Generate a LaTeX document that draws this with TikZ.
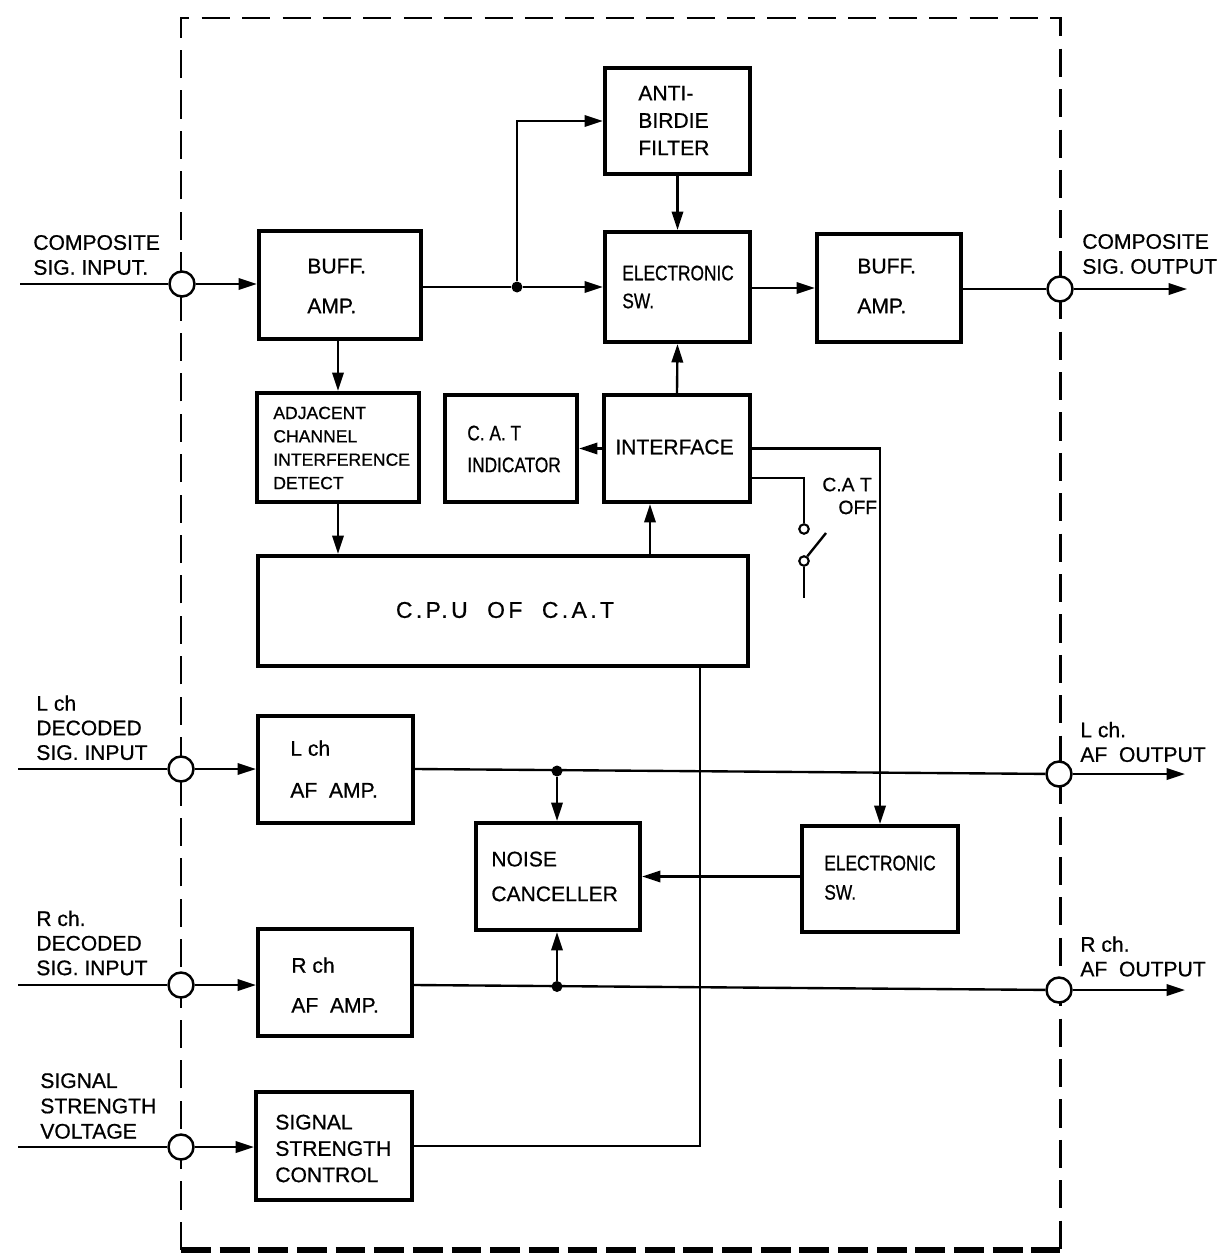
\documentclass[tikz,border=0pt]{standalone}
\usepackage{fontspec}
\setmainfont{Liberation Sans}[FakeBold=0.7]
\newfontfamily\narrowfont{Liberation Sans}[FakeStretch=0.82,FakeBold=0.7]
\newfontfamily\widefont{Liberation Sans}[LetterSpace=15,FakeBold=0.7]
\usetikzlibrary{arrows.meta,fit}
\begin{document}
\begin{tikzpicture}[x=0.02cm,y=-0.02cm,
  box/.style={draw, line width=2.3pt, inner sep=0pt},
  conn/.style={line width=1.35pt},
  arr/.style={conn, -{Triangle[length=10.5pt,width=6.5pt]}},
  port/.style={circle, draw, line width=1.4pt, minimum size=0.5cm, inner sep=0pt, fill=white},
  jdot/.style={circle, fill, minimum size=0.22cm, inner sep=0pt},
  contact/.style={circle, draw, line width=1.2pt, minimum size=0.19cm, inner sep=0pt, fill=white},
  lbl/.style={anchor=west, align=left, inner sep=0pt, font=\fontsize{12}{#1}\selectfont},
  frame/.style={line width=1.7pt, dash pattern=on 16pt off 7pt},
]
\useasboundingbox (0,0) rectangle (1224,1257);

% ---- dashed frame ----
\coordinate (fTL) at (181,18);
\coordinate (fTR) at (1060,18);
\coordinate (fBL) at (181,1250);
\coordinate (fBR) at (1060,1250);
\coordinate (fBRe) at (1060,1257);
\draw[frame] (fBL) -- (fTL) -- (fTR) -- (fBRe);
\draw[line width=3pt, dash pattern=on 17pt off 5pt] (fBL) -- (fBR);

% ---- boxes ----
\node[box, fit={(259,231) (421,339)}] (buf1) {};
\node[box, fit={(605,68) (750,174)}] (anti) {};
\node[box, fit={(605,232) (750,342)}] (elsw1) {};
\node[box, fit={(817,234) (961,342)}] (buf2) {};
\node[box, fit={(257,393) (419,502)}] (adj) {};
\node[box, fit={(445,395) (577,502)}] (catind) {};
\node[box, fit={(604,395) (750,502)}] (iface) {};
\node[box, fit={(258,556) (748,666)}] (cpu) {};
\node[box, fit={(258,716) (413,823)}] (lamp) {};
\node[box, fit={(476,823) (640,930)}] (nc) {};
\node[box, fit={(802,826) (958,932)}] (elsw2) {};
\node[box, fit={(258,929) (412,1036)}] (ramp) {};
\node[box, fit={(256,1092) (412,1200)}] (ssc) {};

% ---- box texts ----
\node[lbl=22.7] (tbuf1) at (307,286) {BUFF.\\AMP.};
\node[lbl=15.6] (tanti) at (638,120.5) {ANTI-\\BIRDIE\\FILTER};
\node[lbl=15.9, font=\narrowfont\fontsize{12}{15.9}\selectfont] (telsw1) at (622,287) {ELECTRONIC\\SW.};
\node[lbl=22.7] (tbuf2) at (857,286) {BUFF.\\AMP.};
\node[lbl=13.3, font=\fontsize{10}{13.3}\selectfont] (tadj) at (273,448) {ADJACENT\\CHANNEL\\INTERFERENCE\\DETECT};
\node[lbl=18.1, font=\narrowfont\fontsize{12}{18.1}\selectfont] (tcat) at (467,449) {C. A. T\\INDICATOR};
\node[lbl=14] (tiface) at (615,447) {INTERFACE};
\node[inner sep=0pt, font=\widefont\fontsize{13}{15}\selectfont] (tcpu) at (505,610) {C.P.U\ \ OF\ \ C.A.T};
\node[lbl=23.8] (tlamp) at (290,769) {L ch\\AF\ \ AMP.};
\node[lbl=19.8] (tnc) at (491,876.5) {NOISE\\CANCELLER};
\node[lbl=16.7, font=\narrowfont\fontsize{12}{16.7}\selectfont] (telsw2) at (824,877.7) {ELECTRONIC\\SW.};
\node[lbl=22.7] (tramp) at (291,985) {R ch\\AF\ \ AMP.};
\node[lbl=15] (tssc) at (275,1148.5) {SIGNAL\\STRENGTH\\CONTROL};

% ---- outside labels ----
\node[lbl=14.2] (lci) at (33,255) {COMPOSITE\\SIG. INPUT.};
\node[lbl=14.2] (lco) at (1082,254) {COMPOSITE\\SIG. OUTPUT};
\node[lbl=14] (lli) at (36,727.7) {L ch\\DECODED\\SIG. INPUT};
\node[lbl=14] (llo) at (1080,742) {L ch.\\AF\ \ OUTPUT};
\node[lbl=14] (lri) at (36,943) {R ch.\\DECODED\\SIG. INPUT};
\node[lbl=14] (lro) at (1080,956.5) {R ch.\\AF\ \ OUTPUT};
\node[lbl=14.4] (lsi) at (40,1106) {SIGNAL\\STRENGTH\\VOLTAGE};
\node[lbl=13, font=\fontsize{11}{13}\selectfont] (lcat) at (822,496) {C.A T\\\ \ \ OFF};

% ---- ports ----
\node[port] (pCI) at (182,284) {};
\node[port] (pCO) at (1060,289) {};
\node[port] (pLI) at (181,769) {};
\node[port] (pLO) at (1059,774) {};
\node[port] (pRI) at (181,985) {};
\node[port] (pRO) at (1059,990) {};
\node[port] (pSI) at (181,1147) {};

% ---- free ends ----
\coordinate (eCI) at (20,284);
\coordinate (eCO) at (1187,289);
\coordinate (eLI) at (18,769);
\coordinate (eLO) at (1185,774);
\coordinate (eRI) at (18,985);
\coordinate (eRO) at (1185,990);
\coordinate (eSI) at (18,1147);

% ---- junctions and helpers ----
\node[jdot] (j1) at (517,287) {};
\node[jdot] (j2) at (557,771) {};
\node[jdot] (j3) at (557,986.5) {};
\coordinate (x650) at (650,0);
\coordinate (x700) at (700,0);
\coordinate (ifo) at (750,478);
\node[contact] (swA) at (804,529) {};
\node[contact] (swB) at (804,561) {};
\coordinate (swTip) at (826,533);
\coordinate (swEnd) at (804,598);

% ---- connectors: composite path ----
\draw[conn] (eCI) -- (pCI);
\draw[arr] (pCI) -- (buf1.west |- pCI);
\draw[conn] (buf1.east |- j1) -- (j1);
\draw[arr] (j1) -- (elsw1.west |- j1);
\draw[arr] (j1) |- (anti.west);
\draw[arr] (anti.south) -- (elsw1.north);
\draw[arr] (elsw1.east |- buf2) -- (buf2.west);
\draw[conn] (buf2.east |- pCO) -- (pCO);
\draw[arr] (pCO) -- (eCO);

% ---- C.A.T control ----
\draw[arr] (buf1.south -| adj.north) -- (adj.north);
\draw[arr] (adj.south) -- (adj.south |- cpu.north);
\draw[arr] (cpu.north -| x650) -- (iface.south -| x650);
\draw[arr] (iface.north) -- (elsw1.south);
\draw[arr] (iface.west) -- (catind.east);
\draw[arr] (iface.east) -| (elsw2.north);
\draw[conn] (ifo) -| (swA.north);
\draw[conn] (swB.55) -- (swTip);
\draw[conn] (swB.south) -- (swEnd);
\draw[conn] (cpu.south -| x700) |- (ssc.east);

% ---- L / R channels ----
\draw[conn] (eLI) -- (pLI);
\draw[arr] (pLI) -- (lamp.west |- pLI);
\draw[conn] (lamp.east |- pLI) -- (pLO);
\draw[arr] (pLO) -- (eLO);
\draw[arr] (j2) -- (j2 |- nc.north);
\draw[conn] (eRI) -- (pRI);
\draw[arr] (pRI) -- (ramp.west |- pRI);
\draw[conn] (ramp.east |- pRI) -- (pRO);
\draw[arr] (pRO) -- (eRO);
\draw[arr] (j3) -- (j3 |- nc.south);
\draw[arr] (elsw2.west |- nc.east) -- (nc.east);

% ---- signal strength ----
\draw[conn] (eSI) -- (pSI);
\draw[arr] (pSI) -- (ssc.west |- pSI);
\end{tikzpicture}
\end{document}
